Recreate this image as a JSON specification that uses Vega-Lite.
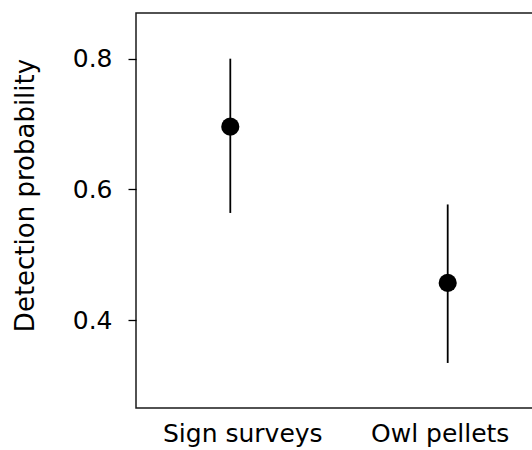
{
  "$schema": "https://vega.github.io/schema/vega-lite/v6.json",
  "width": 397,
  "height": 395,
  "autosize": {"type": "none"},
  "padding": {"left": 136, "top": 13, "right": 0, "bottom": 42},
  "background": "white",
  "config": {
    "view": {"stroke": "#1a1a1a", "strokeWidth": 1.5},
    "font": "DejaVu Sans"
  },
  "data": {
    "values": [
      {"method": "Sign surveys", "est": 0.696, "lo": 0.564, "hi": 0.800},
      {"method": "Owl pellets", "est": 0.457, "lo": 0.3345, "hi": 0.577}
    ]
  },
  "encoding": {
    "x": {
      "field": "method",
      "type": "nominal",
      "sort": ["Sign surveys", "Owl pellets"],
      "scale": {"type": "point", "range": [94.3, 311.7], "padding": 0},
      "axis": {
        "title": null,
        "domain": false,
        "ticks": false,
        "grid": false,
        "labelAngle": 0,
        "labelFont": "DejaVu Sans",
        "labelFontSize": 25,
        "labelColor": "black",
        "labelPadding": 13,
        "labelOffset": {"condition": {"test": "datum.value == 'Sign surveys'", "value": 12}, "value": -8}
      }
    }
  },
  "layer": [
    {
      "mark": {"type": "rule", "color": "black", "strokeWidth": 1.8},
      "encoding": {
        "y": {"field": "lo", "type": "quantitative"},
        "y2": {"field": "hi"}
      }
    },
    {
      "mark": {"type": "point", "filled": true, "color": "black", "opacity": 1, "size": 330},
      "encoding": {
        "y": {
          "field": "est",
          "type": "quantitative",
          "scale": {"domain": [0.2656, 0.8699], "nice": false, "zero": false},
          "axis": {
            "title": "Detection probability",
            "titleFont": "DejaVu Sans",
            "titleFontSize": 26,
            "titleFontWeight": "normal",
            "titleColor": "black",
            "titlePadding": 34,
            "titleY": 182,
            "values": [0.4, 0.6, 0.8],
            "format": ".1f",
            "domain": false,
            "grid": false,
            "tickColor": "black",
            "tickSize": 8,
            "tickWidth": 1.3,
            "labelFont": "DejaVu Sans",
            "labelFontSize": 25,
            "labelColor": "black",
            "labelPadding": 16
          }
        }
      }
    }
  ]
}
